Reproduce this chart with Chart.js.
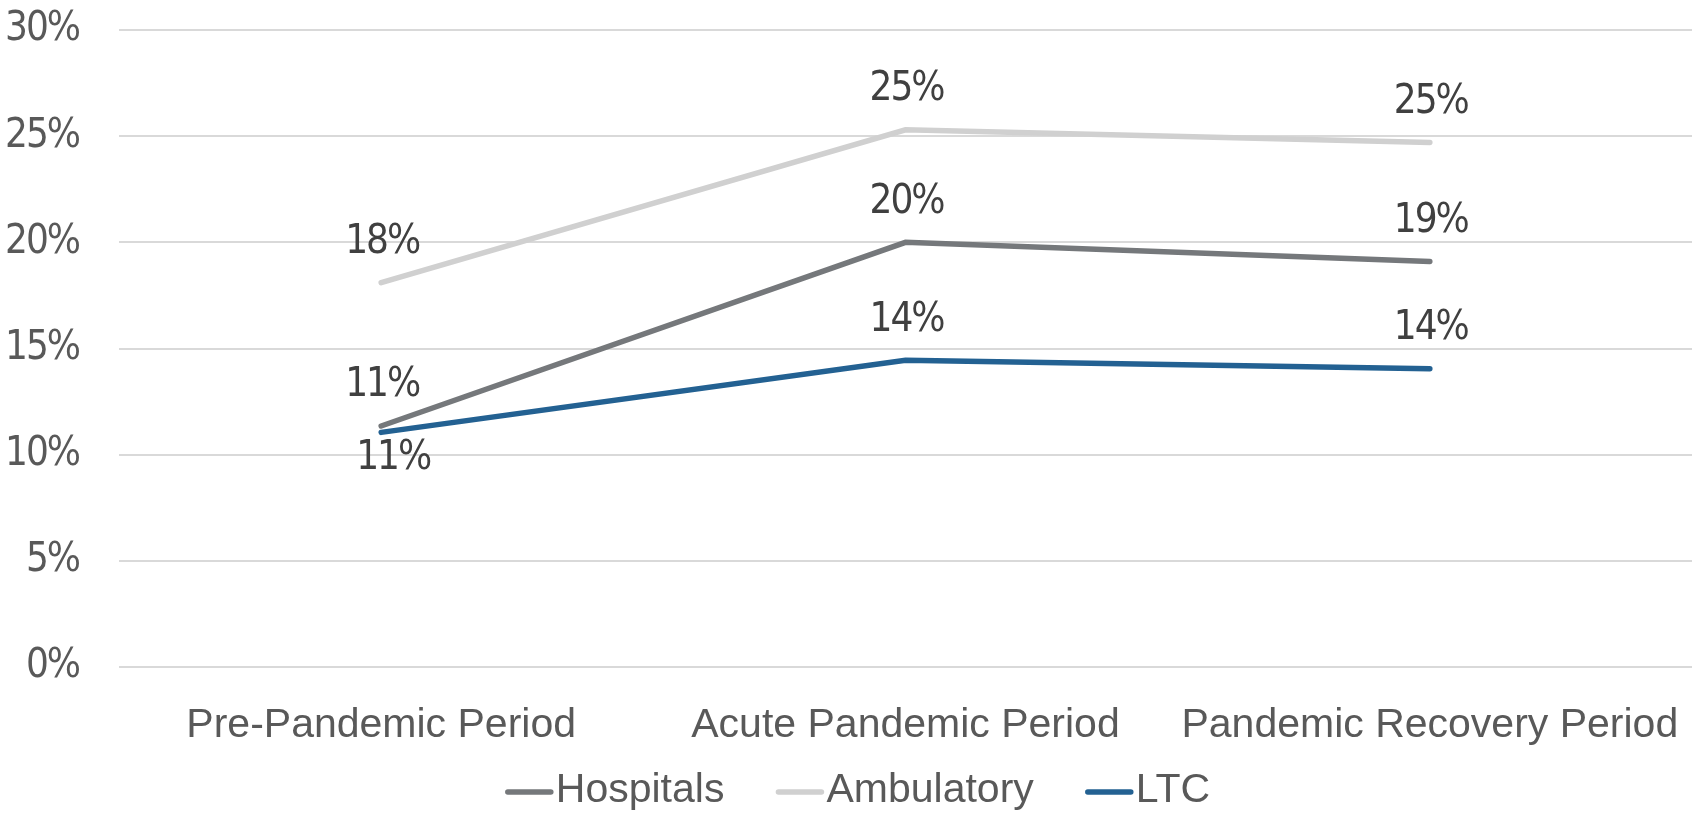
<!DOCTYPE html>
<html>
<head>
<meta charset="utf-8">
<script src="https://cdn.jsdelivr.net/npm/chart.js@4.4.0/dist/chart.umd.min.js"></script>
<style>
  html, body { margin: 0; padding: 0; background: #ffffff; }
  .wrap { width: 1700px; height: 815px; position: relative; }
</style>
</head>
<body>
<div class="wrap"><canvas id="chart"></canvas></div>
<script>
const categories = ['Pre-Pandemic Period', 'Acute Pandemic Period', 'Pandemic Recovery Period'];
const hospitals = [11.35, 20.0, 19.1];
const ambulatory = [18.1, 25.3, 24.7];
const ltc = [11.05, 14.45, 14.05];
const yTicks = [0, 5, 10, 15, 20, 25, 30];

// which side of the point each label sits on
const labelSide = {
  'Hospitals': ['above', 'above', 'above'],
  'Ambulatory': ['above', 'above', 'above'],
  'LTC': ['below', 'above', 'above']
};

const textFont = '"Liberation Sans", Arial, sans-serif';
const numFont = '"DejaVu Sans Condensed", "Liberation Sans", sans-serif';
const numSpacing = '-2px';

const dataLabels = {
  id: 'dataLabels',
  afterDatasetsDraw(chart) {
    const ctx = chart.ctx;
    ctx.save();
    ctx.font = '40px ' + numFont;
    ctx.letterSpacing = numSpacing;
    ctx.fillStyle = '#404040';
    ctx.textAlign = 'center';
    ctx.textBaseline = 'middle';
    chart.data.datasets.forEach((ds, i) => {
      const meta = chart.getDatasetMeta(i);
      meta.data.forEach((pt, j) => {
        const side = labelSide[ds.label][j];
        const dy = side === 'below' ? 26 : -40;
        const dx = side === 'below' ? 11 : 0;
        ctx.fillText(Math.round(ds.data[j]) + '%', pt.x + dx + 1, pt.y + dy);
      });
    });
    ctx.restore();
    // y tick labels (z: 1) are drawn next, tighten them the same way
    ctx.letterSpacing = numSpacing;
  }
};

const lineLegend = {
  id: 'lineLegend',
  afterDraw(chart) {
    const ctx = chart.ctx;
    ctx.letterSpacing = '0px';
    ctx.save();
    ctx.font = '41px ' + textFont;
    const lineLen = 47, gap = 3, itemGap = 52;
    const items = chart.data.datasets.map(ds => ({
      text: ds.label, color: ds.borderColor, w: ctx.measureText(ds.label).width
    }));
    let total = 0;
    items.forEach((it, k) => { total += lineLen + gap + it.w + (k ? itemGap : 0); });
    let x = (chart.width - total) / 2 + 8;
    const y = 791;
    ctx.textBaseline = 'middle';
    ctx.textAlign = 'left';
    items.forEach(it => {
      ctx.strokeStyle = it.color;
      ctx.lineWidth = 5.5;
      ctx.lineCap = 'round';
      ctx.beginPath();
      ctx.moveTo(x + 2, y + 1);
      ctx.lineTo(x + lineLen - 2, y + 1);
      ctx.stroke();
      ctx.fillStyle = '#595959';
      ctx.fillText(it.text, x + lineLen + gap, y);
      x += lineLen + gap + it.w + itemGap;
    });
    ctx.restore();
  }
};

const ctx = document.getElementById('chart').getContext('2d');
new Chart(ctx, {
  type: 'line',
  data: {
    labels: categories,
    datasets: [
      { label: 'Hospitals', data: hospitals, borderColor: '#75787b', backgroundColor: '#75787b' },
      { label: 'Ambulatory', data: ambulatory, borderColor: '#d0d0d0', backgroundColor: '#d0d0d0' },
      { label: 'LTC', data: ltc, borderColor: '#236192', backgroundColor: '#236192' }
    ].map(d => Object.assign(d, {
      borderWidth: 5.5,
      pointRadius: 0,
      tension: 0,
      borderCapStyle: 'round',
      fill: false
    }))
  },
  options: {
    responsive: true,
    maintainAspectRatio: false,
    animation: false,
    layout: { padding: { top: 30, right: 8, left: 0, bottom: 0 } },
    plugins: {
      legend: { display: false },
      tooltip: { enabled: false }
    },
    scales: {
      x: {
        offset: true,
        grid: { display: false },
        border: { display: false },
        ticks: {
          color: '#595959',
          padding: 26,
          maxRotation: 0,
          font: { family: textFont, size: 41 }
        },
        afterFit(scale) {
          scale.height = 148;
          scale.paddingLeft = 0;
          scale.paddingRight = 0;
        }
      },
      y: {
        min: 0,
        max: 30,
        afterBuildTicks(scale) { scale.ticks = yTicks.map(v => ({ value: v })); },
        grid: { color: '#d9d9d9', lineWidth: 2, drawTicks: false },
        border: { display: false },
        ticks: {
          z: 1,
          color: '#595959',
          padding: 40,
          font: { family: numFont, size: 40 },
          callback: v => v + '%'
        },
        afterFit(scale) {
          scale.width = 119;
          scale.paddingTop = 0;
          scale.paddingBottom = 0;
        }
      }
    }
  },
  plugins: [dataLabels, lineLegend]
});
</script>
</body>
</html>
